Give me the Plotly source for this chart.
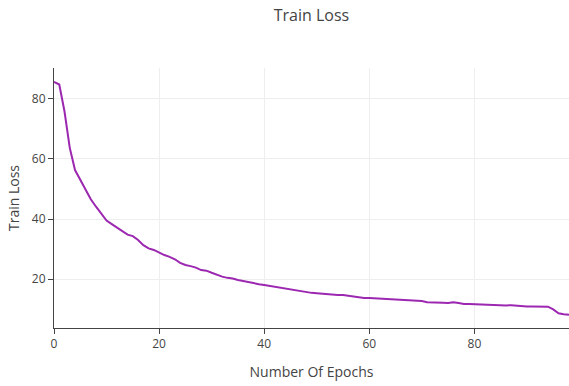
import plotly.graph_objects as go

epochs = list(range(0, 99))
train_loss = [
    85.7, 84.8, 75.8, 63.7, 56.3, 53.0, 49.4, 46.6, 44.1, 41.7,
    39.5, 38.3, 37.2, 36.1, 34.8, 34.3, 33.0, 31.3, 30.2, 29.7,
    28.8, 28.0, 27.4, 26.6, 25.4, 24.7, 24.3, 23.8, 23.0, 22.8,
    22.1, 21.4, 20.8, 20.4, 20.2, 19.7, 19.3, 19.1, 18.6, 18.3,
    18.0, 17.7, 17.3, 17.0, 16.7, 16.6, 16.3, 16.0, 15.7, 15.4,
    15.3, 15.1, 15.0, 14.8, 14.7, 14.7, 14.4, 14.1, 13.9, 13.7,
    13.7, 13.6, 13.3, 13.2, 13.1, 13.0, 13.0, 12.9, 12.8, 12.6,
    12.7, 12.3, 12.3, 12.1, 12.1, 12.0, 12.3, 12.0, 11.7, 11.7,
    11.6, 11.5, 11.4, 11.3, 11.2, 11.1, 11.2, 11.3, 11.1, 11.0,
    10.9, 10.9, 10.9, 10.9, 10.8, 9.9, 8.6, 8.3, 8.1,
]

fig = go.Figure()
fig.add_trace(go.Scatter(
    x=epochs, y=train_loss, mode="lines",
    line=dict(color="#9c27b0", width=2),
    name="Train Loss",
))

fig.update_layout(
    template="plotly_white",
    width=569, height=386,
    margin=dict(l=54, r=0, t=68, b=58),
    font=dict(family="Open Sans", color="#444", size=12),
    title=dict(text="Train Loss", x=0.5, xref="paper", y=1 - 15 / 386,
               yref="container", yanchor="middle", font=dict(size=16, color="#444")),
    showlegend=False,
    xaxis=dict(
        title=dict(text="Number Of Epochs", font=dict(size=14)),
        range=[0, 98], showline=True, linecolor="#444", linewidth=1,
        ticks="outside", ticklen=5, tickcolor="#444",
        showgrid=True, gridcolor="#eeeeee", zeroline=False,
        dtick=20,
    ),
    yaxis=dict(
        title=dict(text="Train Loss", font=dict(size=14), standoff=8),
        range=[3.7, 90.3], showline=True, linecolor="#444", linewidth=1,
        ticks="outside", ticklen=5, tickcolor="#444",
        showgrid=True, gridcolor="#eeeeee", zeroline=False,
        dtick=20, tick0=0,
    ),
)

fig.write_html(
    "out.html",
    config={"displayModeBar": False},
    post_script="document.body.style.margin='0';document.body.style.overflow='hidden';",
)
